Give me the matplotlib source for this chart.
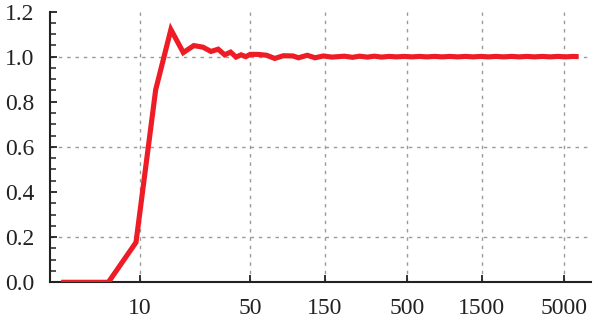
import matplotlib
matplotlib.use("Agg")
import matplotlib.pyplot as plt
from matplotlib.ticker import FixedLocator, FixedFormatter, MultipleLocator

# step response (log x axis)
x_vals = [3.14, 6.28, 9.42, 12.57, 15.71, 18.85, 21.99, 25.13, 28.27, 31.42,
          34.56, 37.70, 40.84, 43.98, 47.12, 50.27, 56.5, 64.0, 72.0, 81.7,
          94.2, 102.0, 116.0, 130.0, 147.0, 166.0, 183.0,
          200, 225, 250, 280, 310, 345, 385, 430, 480, 540, 600, 670, 750,
          840, 940, 1050, 1180, 1320, 1480, 1650, 1850, 2070, 2320, 2600,
          2900, 3250, 3640, 4080, 4570, 5120, 5730, 6200]
y_vals = [0.0, 0.0, 0.177, 0.853, 1.12, 1.018, 1.049, 1.042, 1.023, 1.033,
          1.008, 1.020, 0.998, 1.008, 1.000, 1.010, 1.010, 1.006, 0.992, 1.004,
          1.003, 0.995, 1.006, 0.995, 1.003, 0.998, 1.000,
          1.002, 0.997, 1.002, 0.998, 1.002, 0.998, 1.001, 0.999, 1.001, 0.999,
          1.001, 0.999, 1.001, 0.999, 1.001, 0.999, 1.001, 0.999, 1.001, 0.999,
          1.001, 0.999, 1.001, 0.999, 1.001, 0.999, 1.001, 0.999, 1.001, 0.999,
          1.001, 1.000]

x_ticks = [10, 50, 150, 500, 1500, 5000]
x_tick_labels = ["10", "50", "150", "500", "1500", "5000"]
y_ticks = [0.0, 0.2, 0.4, 0.6, 0.8, 1.0, 1.2]
y_grid = [0.2, 0.6, 1.0]

plt.rcParams["font.family"] = "serif"
plt.rcParams["font.serif"] = ["Liberation Serif"]

fig = plt.figure(figsize=(5.94, 3.27), dpi=100)
ax = fig.add_axes([0.0842, 0.1367, 0.9944 - 0.0842, 0.9648 - 0.1367])

ax.set_xscale("log")
ax.set_xlim(2.67, 7400)
ax.set_ylim(0, 1.2)

grid_kw = dict(color="#9a9a9a", lw=1.0, ls=(0, (2.5, 3.5)), zorder=0)
for xv in x_ticks:
    ax.axvline(xv, **grid_kw)
for yv in y_grid:
    ax.axhline(yv, **grid_kw)

ax.plot(x_vals, y_vals, color="#EE1C25", lw=3.7,
        solid_capstyle="butt", solid_joinstyle="miter", zorder=3)

ax.xaxis.set_major_locator(FixedLocator(x_ticks))
ax.xaxis.set_major_formatter(FixedFormatter(x_tick_labels))
ax.xaxis.set_minor_locator(FixedLocator([]))
ax.set_yticks(y_ticks)
ax.set_yticklabels([f"{v:.1f}" for v in y_ticks])
ax.yaxis.set_minor_locator(MultipleLocator(0.05))

for s in ("top", "right"):
    ax.spines[s].set_visible(False)
for s in ("left", "bottom"):
    ax.spines[s].set_linewidth(1.5)
    ax.spines[s].set_color("#222222")

ax.tick_params(axis="both", which="major", direction="in", length=5,
               width=1.3, color="#222222", labelsize=17, labelcolor="#222222")
ax.tick_params(axis="y", which="major", pad=11)
ax.tick_params(axis="x", which="major", pad=11)
ax.tick_params(axis="y", which="minor", direction="in", length=4,
               width=1.1, color="#222222")

fig.savefig("out.png", dpi=100)
